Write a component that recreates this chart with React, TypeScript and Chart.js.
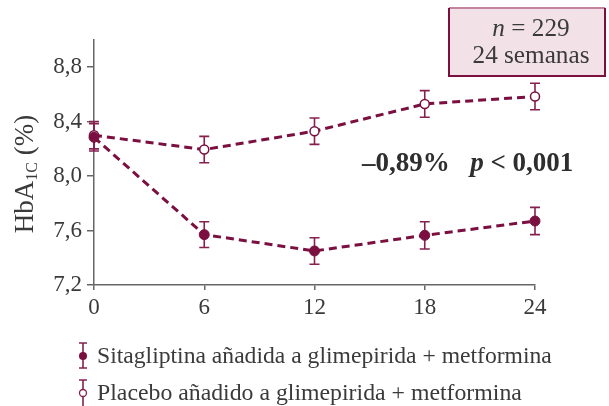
import React, { useEffect, useRef } from "react";
import { Chart, registerables } from "chart.js";

Chart.register(...registerables);

const weeks = [0, 6, 12, 18, 24];
const sitagliptinaHbA1c = [8.285, 7.57, 7.45, 7.565, 7.67];
const sitagliptinaError = [0.1, 0.095, 0.097, 0.1, 0.1];
const placeboHbA1c = [8.3, 8.195, 8.33, 8.53, 8.585];
const placeboError = [0.1, 0.097, 0.097, 0.098, 0.097];
const yTicks = [7.2, 7.6, 8.0, 8.4, 8.8];
const xTicks = [0, 6, 12, 18, 24];
const seriesLabels = [
  "Sitagliptina añadida a glimepirida + metformina",
  "Placebo añadido a glimepirida + metformina",
];
const boxN = "229";
const boxWeeks = "24 semanas";
const diffText = "–0,89%";
const pValueText = " < 0,001";

const MAROON = "#7a0f40";
const BAR = "#86204f";
const AXIS = "#666666";
const TEXT = "#3a3a3a";
const SERIF = '"Liberation Serif", "DejaVu Serif", serif';

function fitSize(ctx: CanvasRenderingContext2D, style: string, text: string, base: number, target: number) {
  ctx.font = `${style} ${base}px ${SERIF}`;
  const w = ctx.measureText(text).width;
  return (base * target) / w;
}

const errorBarPlugin = {
  id: "errorBars",
  beforeDatasetsDraw(chart: any) {
    const { ctx, scales } = chart;
    const x = scales.x;
    const y = scales.y;
    ctx.save();
    ctx.strokeStyle = BAR;
    ctx.lineWidth = 1.6;
    const groups: [number[], number[]][] = [
      [sitagliptinaHbA1c, sitagliptinaError],
      [placeboHbA1c, placeboError],
    ];
    groups.forEach(([vals, errs]) => {
      vals.forEach((v, i) => {
        const px = x.getPixelForValue(weeks[i]);
        const top = y.getPixelForValue(v + errs[i]);
        const bot = y.getPixelForValue(v - errs[i]);
        ctx.beginPath();
        ctx.moveTo(px, top);
        ctx.lineTo(px, bot);
        ctx.moveTo(px - 5, top);
        ctx.lineTo(px + 5, top);
        ctx.moveTo(px - 5, bot);
        ctx.lineTo(px + 5, bot);
        ctx.stroke();
      });
    });
    ctx.restore();
  },
};

const decorPlugin = {
  id: "decor",
  afterDraw(chart: any) {
    const { ctx } = chart;
    ctx.save();

    // Box top right
    const bx = 449, by = 8, bw = 156, bh = 68;
    ctx.fillStyle = "#f2e2e7";
    ctx.fillRect(bx, by, bw, bh);
    ctx.lineWidth = 2;
    ctx.strokeStyle = "#c4849f";
    ctx.beginPath();
    ctx.moveTo(bx, by);
    ctx.lineTo(bx + bw, by);
    ctx.stroke();
    ctx.strokeStyle = MAROON;
    ctx.beginPath();
    ctx.moveTo(bx, by);
    ctx.lineTo(bx, by + bh);
    ctx.lineTo(bx + bw, by + bh);
    ctx.lineTo(bx + bw, by);
    ctx.stroke();

    ctx.fillStyle = TEXT;
    ctx.textBaseline = "alphabetic";
    ctx.textAlign = "left";
    const cx = 531;
    const bs = fitSize(ctx, "", boxWeeks, 20, 117);
    ctx.font = `italic ${bs}px ${SERIF}`;
    const wn = ctx.measureText("n").width;
    ctx.font = `${bs}px ${SERIF}`;
    const rest = " = " + boxN;
    const wr = ctx.measureText(rest).width;
    const sx = cx - (wn + wr) / 2;
    ctx.font = `italic ${bs}px ${SERIF}`;
    ctx.fillText("n", sx, 36);
    ctx.font = `${bs}px ${SERIF}`;
    ctx.fillText(rest, sx + wn, 36);
    ctx.textAlign = "center";
    ctx.fillText(boxWeeks, cx, 63);

    // Annotation
    ctx.textAlign = "left";
    ctx.textBaseline = "alphabetic";
    ctx.fillStyle = "#2e2e2e";
    const full = diffText + "   p" + pValueText;
    const as = fitSize(ctx, "bold", full, 20, 213);
    let ax = 362;
    const ay = 171;
    ctx.font = `bold ${as}px ${SERIF}`;
    ctx.fillText(diffText, ax, ay);
    ax += ctx.measureText(diffText + "   ").width;
    ctx.font = `italic bold ${as}px ${SERIF}`;
    ctx.fillText("p", ax, ay);
    ax += ctx.measureText("p").width;
    ctx.font = `bold ${as}px ${SERIF}`;
    ctx.fillText(pValueText, ax, ay);

    // Y title
    ctx.save();
    ctx.translate(33, 174);
    ctx.rotate(-Math.PI / 2);
    ctx.fillStyle = TEXT;
    ctx.textBaseline = "alphabetic";
    ctx.font = `27px ${SERIF}`;
    const p1 = "HbA";
    const p3 = " (%)";
    const w1 = ctx.measureText(p1).width;
    const w3 = ctx.measureText(p3).width;
    ctx.font = `16px ${SERIF}`;
    const w2 = ctx.measureText("1C").width;
    const tx = -(w1 + w2 + w3) / 2;
    ctx.font = `27px ${SERIF}`;
    ctx.fillText(p1, tx, 0);
    ctx.font = `16px ${SERIF}`;
    ctx.fillText("1C", tx + w1, 4);
    ctx.font = `27px ${SERIF}`;
    ctx.fillText(p3, tx + w1 + w2, 0);
    ctx.restore();

    // Legend
    const rows = [
      { cy: 356, top: 343, bot: 368, filled: true, target: 455 },
      { cy: 393, top: 380, bot: 408, filled: false, target: 425 },
    ];
    rows.forEach((r, i) => {
      const ix = 83;
      ctx.strokeStyle = BAR;
      ctx.lineWidth = 1.6;
      ctx.beginPath();
      ctx.moveTo(ix, r.top);
      ctx.lineTo(ix, r.bot);
      ctx.moveTo(ix - 4, r.top);
      ctx.lineTo(ix + 4, r.top);
      ctx.moveTo(ix - 4, r.bot);
      ctx.lineTo(ix + 4, r.bot);
      ctx.stroke();
      ctx.beginPath();
      ctx.arc(ix, r.cy, r.filled ? 4 : 3.5, 0, Math.PI * 2);
      if (r.filled) {
        ctx.fillStyle = MAROON;
        ctx.fill();
      } else {
        ctx.fillStyle = "#ffffff";
        ctx.fill();
        ctx.lineWidth = 1.3;
        ctx.stroke();
      }
      ctx.fillStyle = TEXT;
      const ls = fitSize(ctx, "", seriesLabels[i], 20, r.target);
      ctx.font = `${ls}px ${SERIF}`;
      ctx.textAlign = "left";
      ctx.textBaseline = "alphabetic";
      ctx.fillText(seriesLabels[i], 97, r.cy + 7);
    });

    ctx.restore();
  },
};

export default function App() {
  const ref = useRef<HTMLCanvasElement | null>(null);
  useEffect(() => {
    if (!ref.current) return;
    const chart = new Chart(ref.current, {
      type: "line",
      data: {
        datasets: [
          {
            label: seriesLabels[0],
            data: weeks.map((w, i) => ({ x: w, y: sitagliptinaHbA1c[i] })),
            borderColor: MAROON,
            borderWidth: 3,
            borderDash: [8, 5],
            pointRadius: 5,
            pointBackgroundColor: MAROON,
            pointBorderColor: MAROON,
            pointBorderWidth: 1,
            clip: false as any,
            tension: 0,
          },
          {
            label: seriesLabels[1],
            data: weeks.map((w, i) => ({ x: w, y: placeboHbA1c[i] })),
            borderColor: MAROON,
            borderWidth: 3,
            borderDash: [8, 5],
            pointRadius: 4.5,
            pointBackgroundColor: "#ffffff",
            pointBorderColor: MAROON,
            pointBorderWidth: 1.5,
            clip: false as any,
            tension: 0,
          },
        ],
      },
      options: {
        responsive: false,
        animation: false,
        layout: { padding: { left: 0, top: 40, right: 74, bottom: 0 } },
        plugins: {
          legend: { display: false },
          tooltip: { enabled: false },
        },
        scales: {
          x: {
            type: "linear",
            min: 0,
            max: 24,
            afterBuildTicks: (s: any) => {
              s.ticks = xTicks.map((v) => ({ value: v }));
            },
            afterFit: (s: any) => {
              s.height = 121;
            },
            ticks: {
              color: TEXT,
              font: { family: SERIF, size: 23 },
              padding: 4,
              maxRotation: 0,
              callback: (v: any) => String(v),
            },
            grid: {
              drawOnChartArea: false,
              drawTicks: true,
              tickLength: 5,
              color: AXIS,
              lineWidth: 1.5,
            },
            border: { color: AXIS, width: 1.5 },
          },
          y: {
            type: "linear",
            min: 7.2,
            max: 9.0,
            afterBuildTicks: (s: any) => {
              s.ticks = yTicks.map((v) => ({ value: v }));
            },
            afterFit: (s: any) => {
              s.width = 94;
            },
            ticks: {
              color: TEXT,
              font: { family: SERIF, size: 23 },
              padding: 5,
              callback: (v: any) => Number(v).toFixed(1).replace(".", ","),
            },
            grid: {
              drawOnChartArea: false,
              drawTicks: true,
              tickLength: 7,
              color: AXIS,
              lineWidth: 1.5,
            },
            border: { color: AXIS, width: 1.5 },
          },
        },
      },
      plugins: [errorBarPlugin, decorPlugin],
    } as any);
    return () => chart.destroy();
  }, []);
  return (
    <div style={{ position: "fixed", left: 0, top: 0, width: 609, height: 406, background: "#fff" }}>
      <canvas ref={ref} width={609} height={406} style={{ display: "block" }} />
    </div>
  );
}
